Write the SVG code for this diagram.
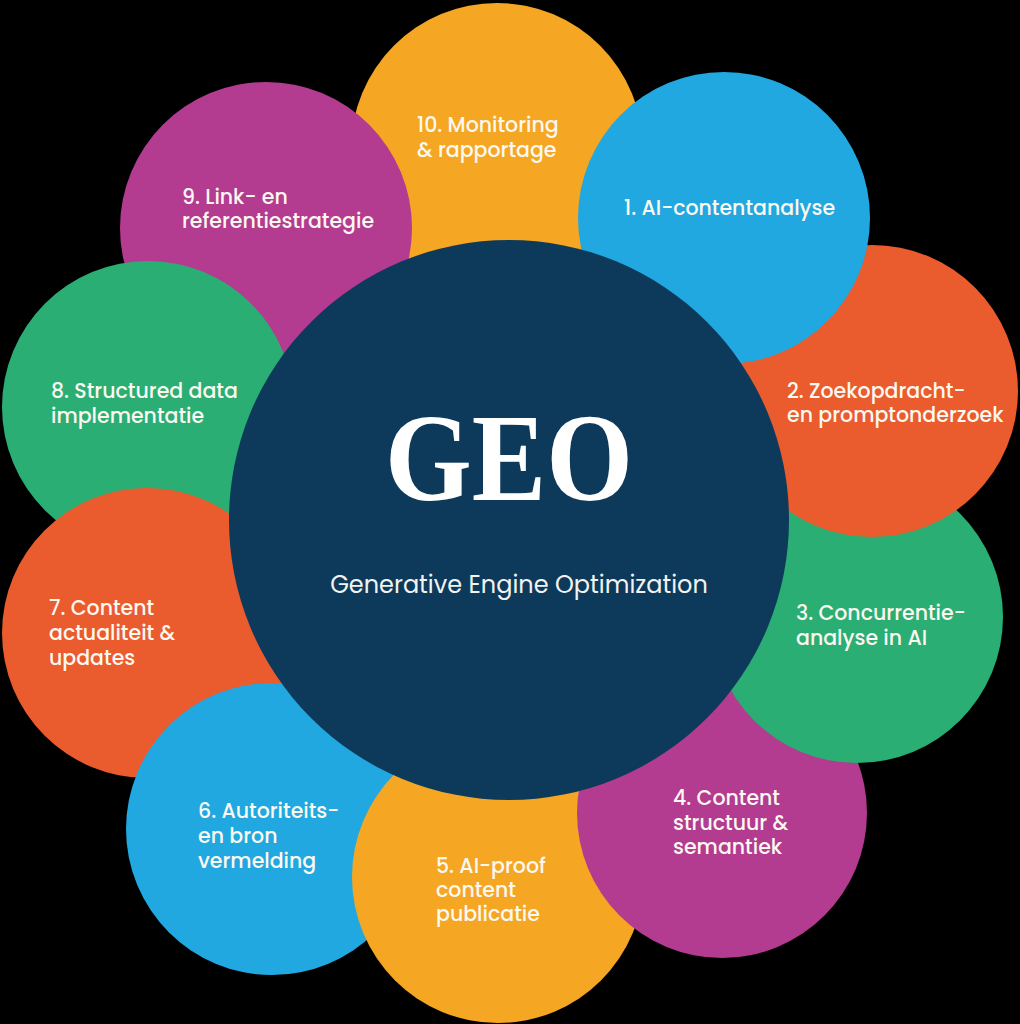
<svg xmlns="http://www.w3.org/2000/svg" width="1020" height="1024" viewBox="0 0 1020 1024">
<style>
.c{stroke:none}
.blue{fill:#21A8E1}.orange{fill:#EA5B2D}.green{fill:#2AAE73}.purple{fill:#B33B90}.yellow{fill:#F5A623}.navy{fill:#0D3A5A}
.t{font-family:Poppins,"Inter","Open Sans",sans-serif;font-size:20.5px;fill:#FBF8F0;font-weight:500}
.geo{font-family:"Liberation Serif","DejaVu Serif",serif;font-weight:bold;font-size:124px;fill:#FFFFFF}
.sub{font-family:Poppins,"Inter","Open Sans",sans-serif;font-size:24px;fill:#F2F2F2;font-weight:400}
</style>
<rect width="1020" height="1024" fill="#000"/>
<g id="node10"><circle class="c yellow" cx="497" cy="149" r="146"/><text class="t" x="417" y="132">10. Monitoring</text><text class="t" x="417" y="157">&amp; rapportage</text></g>
<g id="node9"><circle class="c purple" cx="266" cy="228" r="146"/><text class="t" x="182" y="204">9. Link- en</text><text class="t" x="182" y="228">referentiestrategie</text></g>
<g id="node8"><circle class="c green" cx="148" cy="407" r="146"/><text class="t" x="51" y="398">8. Structured data</text><text class="t" x="51" y="423">implementatie</text></g>
<g id="node7"><circle class="c orange" cx="147" cy="633" r="145"/><text class="t" x="49" y="615">7. Content</text><text class="t" x="49" y="640">actualiteit &amp;</text><text class="t" x="49" y="665">updates</text></g>
<g id="node6"><circle class="c blue" cx="272" cy="829" r="146"/><text class="t" x="198" y="818">6. Autoriteits-</text><text class="t" x="198" y="843">en bron</text><text class="t" x="198" y="868">vermelding</text></g>
<g id="node5"><circle class="c yellow" cx="498" cy="877" r="146"/><text class="t" x="436" y="873">5. AI-proof</text><text class="t" x="436" y="897">content</text><text class="t" x="436" y="921">publicatie</text></g>
<g id="node4"><circle class="c purple" cx="722" cy="813" r="145"/><text class="t" x="673" y="805">4. Content</text><text class="t" x="673" y="830">structuur &amp;</text><text class="t" x="673" y="854">semantiek</text></g>
<g id="node3"><circle class="c green" cx="857" cy="617" r="146"/><text class="t" x="796" y="620">3. Concurrentie-</text><text class="t" x="796" y="645">analyse in AI</text></g>
<g id="node2"><circle class="c orange" cx="872" cy="391" r="146"/><text class="t" x="787" y="398">2. Zoekopdracht-</text><text class="t" x="787" y="422">en promptonderzoek</text></g>
<g id="node1"><circle class="c blue" cx="724" cy="218" r="146"/><text class="t" x="624" y="215">1. AI-contentanalyse</text></g>
<g id="center"><circle class="c navy" cx="509" cy="520" r="280"/><text class="geo" x="509" y="500" text-anchor="middle" textLength="248" lengthAdjust="spacingAndGlyphs">GEO</text><text class="sub" x="519" y="593" text-anchor="middle">Generative Engine Optimization</text></g>
<g id="connectors"></g>
</svg>
